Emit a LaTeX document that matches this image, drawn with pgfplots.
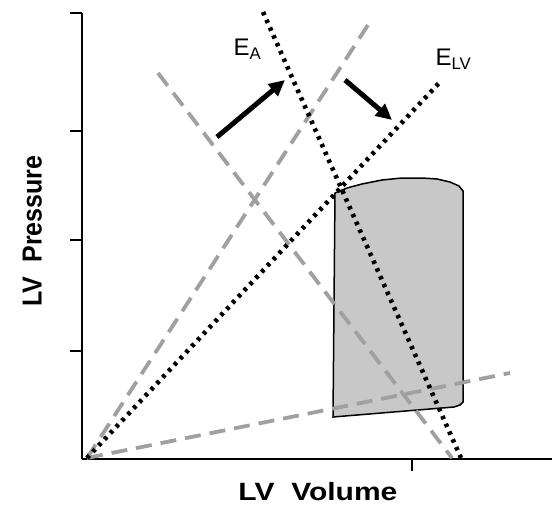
\documentclass[border=0pt]{standalone}
\usepackage{pgfplots}
\pgfplotsset{compat=1.18}
\usepackage{fontspec}
\setmainfont{Liberation Sans}
\usetikzlibrary{arrows.meta}
\definecolor{loopgray}{RGB}{200,200,200}
\definecolor{dashgray}{RGB}{160,160,160}
\begin{document}
\begin{tikzpicture}
\begin{axis}[
    scale only axis,
    width=470pt, height=446pt,
    xmin=0, xmax=470, ymin=0, ymax=446,
    axis lines*=left,
    axis line style={line width=2.2pt, black},
    xtick={330}, ytick={108,219,328,446},
    xticklabels={}, yticklabels={},
    tick align=outside,
    major tick length=12pt,
    tick style={line width=2.2pt, black},
    clip=false,
    xlabel={\bfseries LV\ \ Volume},
    ylabel={\bfseries LV\ \ Pressure},
    xlabel style={font=\fontsize{25}{28}\selectfont, xscale=1.2,
        at={(rel axis cs:0.502,-0.074)}, anchor=center},
    ylabel style={font=\fontsize{25}{28}\selectfont, yscale=1.1,
        at={(rel axis cs:-0.106,0.511)}, anchor=center},
]
% invisible frame that fixes the picture size
\path (axis cs:-82,-48) rectangle (axis cs:472,459);

% pressure-volume loop
\addplot[fill=loopgray, draw=black, line width=1.5pt] coordinates {
    (253,266) (265,271) (280,275) (300,279) (320,281) (340,281)
    (355,280) (368,277) (377,273) (381,268)
    (381,57) (378,54) (372,52) (251,42)
} -- cycle;

% gray dashed lines
\addplot[dashgray, line width=3.8pt, dash pattern=on 16pt off 9pt] coordinates {(5,1) (286,434)};
\addplot[dashgray, line width=3.8pt, dash pattern=on 16pt off 9pt] coordinates {(76,386) (370,1)};
\addplot[dashgray, line width=3.8pt, dash pattern=on 16pt off 9pt] coordinates {(5,1) (428,86)};

% black dotted lines (E_LV, E_A)
\addplot[black, line width=4.6pt, dash pattern=on 3.5pt off 5pt] coordinates {(5,1) (358,377)};
\addplot[black, line width=4.6pt, dash pattern=on 3.5pt off 5pt] coordinates {(181,447) (379,1)};

% arrows
\addplot[black, line width=5pt, -{Triangle[length=16pt,width=15pt]}] coordinates {(135,322) (203,379)};
\addplot[black, line width=5pt, -{Triangle[length=16pt,width=15pt]}] coordinates {(263,379) (310,339)};

\node[anchor=base west, font=\fontsize{24}{27}\selectfont] at (axis cs:148,403) {E\textsubscript{A}};
\node[anchor=base west, font=\fontsize{24}{27}\selectfont] at (axis cs:350,393) {E\textsubscript{LV}};
\end{axis}
\end{tikzpicture}
\end{document}
